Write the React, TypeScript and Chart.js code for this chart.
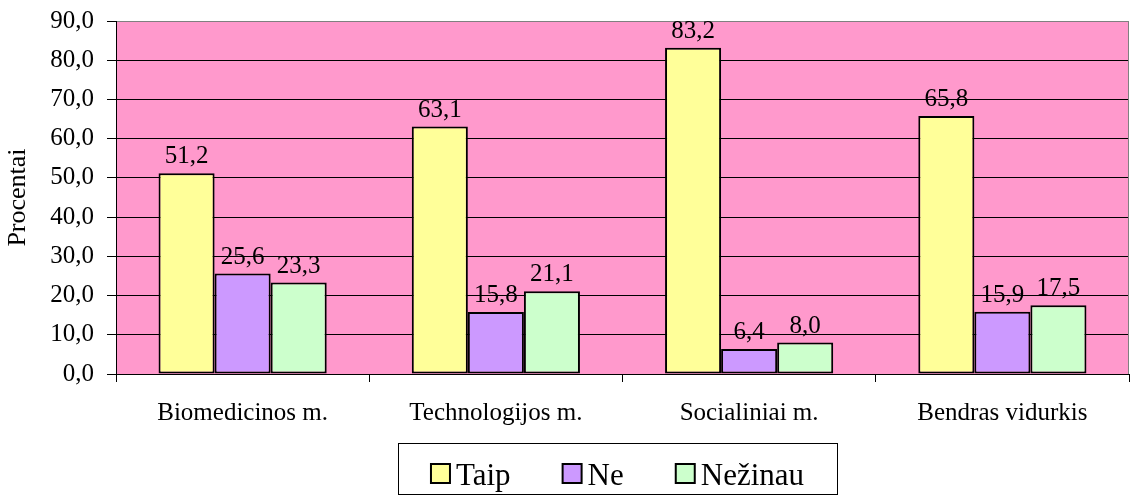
import React, { useEffect, useRef } from "react";
import { Chart, registerables } from "chart.js";

Chart.register(...registerables);

const categories = ["Biomedicinos m.", "Technologijos m.", "Socialiniai m.", "Bendras vidurkis"];
const seriesNames = ["Taip", "Ne", "Nežinau"];
const taipValues = [51.2, 63.1, 83.2, 65.8];
const neValues = [25.6, 15.8, 6.4, 15.9];
const nezinauValues = [23.3, 21.1, 8.0, 17.5];
const seriesColors = ["#FFFF99", "#CC99FF", "#CCFFCC"];
const yAxisTitle = "Procentai";

const FONT = "'Liberation Serif', 'Times New Roman', serif";
const fmt = (v: number) => v.toFixed(1).replace(".", ",");

const bgPlugin = {
  id: "bgPlugin",
  beforeDraw(chart: any) {
    const { ctx, chartArea: a } = chart;
    ctx.save();
    ctx.fillStyle = "#FF99CC";
    ctx.fillRect(a.left, a.top, a.right - a.left, a.bottom - a.top);
    ctx.restore();
  },
  afterDatasetsDraw(chart: any) {
    const { ctx, chartArea: a } = chart;
    ctx.save();
    ctx.strokeStyle = "#808080";
    ctx.lineWidth = 1;
    ctx.beginPath();
    ctx.moveTo(a.right - 0.5, a.top);
    ctx.lineTo(a.right - 0.5, a.bottom);
    ctx.stroke();
    ctx.restore();
  },
};

const valueLabelPlugin = {
  id: "valueLabelPlugin",
  afterDatasetsDraw(chart: any) {
    const { ctx } = chart;
    ctx.save();
    ctx.font = `25px ${FONT}`;
    ctx.fillStyle = "#000";
    ctx.textAlign = "center";
    ctx.textBaseline = "alphabetic";
    chart.data.datasets.forEach((ds: any, i: number) => {
      const meta = chart.getDatasetMeta(i);
      meta.data.forEach((bar: any, j: number) => {
        ctx.fillText(fmt(ds.data[j]), bar.x, bar.y - 10);
      });
    });
    ctx.restore();
  },
};

const legendPlugin = {
  id: "boxLegend",
  afterDraw(chart: any) {
    const { ctx } = chart;
    const boxLeft = 398;
    const boxRight = 837;
    const boxTop = 443;
    const boxBottom = 494;
    ctx.save();
    ctx.strokeStyle = "#000";
    ctx.lineWidth = 1;
    ctx.strokeRect(boxLeft + 0.5, boxTop + 0.5, boxRight - boxLeft, boxBottom - boxTop);
    ctx.font = `31px ${FONT}`;
    ctx.textBaseline = "alphabetic";
    ctx.textAlign = "left";
    const sq = 19;
    const gapText = 6;
    const gapItem = 52;
    const items = chart.data.datasets.map((ds: any) => ({
      label: ds.label,
      color: ds.backgroundColor,
      w: ctx.measureText(ds.label).width,
    }));
    const total =
      items.reduce((s: number, it: any) => s + sq + gapText + it.w, 0) + gapItem * (items.length - 1);
    let x = (boxLeft + boxRight) / 2 - total / 2;
    const baseline = 485;
    items.forEach((it: any) => {
      ctx.fillStyle = it.color;
      ctx.fillRect(x, 464, sq, sq);
      ctx.lineWidth = 2;
      ctx.strokeStyle = "#000";
      ctx.strokeRect(x, 464, sq, sq);
      ctx.fillStyle = "#000";
      ctx.fillText(it.label, x + sq + gapText, baseline);
      x += sq + gapText + it.w + gapItem;
    });
    ctx.restore();
  },
};

export default function App() {
  const ref = useRef<HTMLCanvasElement | null>(null);

  useEffect(() => {
    if (!ref.current) return;
    const values = [taipValues, neValues, nezinauValues];
    const chart = new Chart(ref.current, {
      type: "bar",
      data: {
        labels: categories,
        datasets: seriesNames.map((name, i) => ({
          label: name,
          data: values[i],
          backgroundColor: seriesColors[i],
          borderColor: "#000",
          borderWidth: 2,
          borderSkipped: false,
          categoryPercentage: 0.664,
          barPercentage: 1,
        })),
      },
      options: {
        responsive: false,
        animation: false,
        layout: { padding: { left: 0, top: 21, right: 3, bottom: 0 } },
        plugins: {
          legend: { display: false },
          tooltip: { enabled: false },
        },
        scales: {
          x: {
            afterFit: (s: any) => {
              s.height = 121;
            },
            grid: {
              offset: true,
              drawOnChartArea: false,
              drawTicks: true,
              tickLength: 8,
              color: "#000",
            },
            border: { color: "#000", width: 1 },
            ticks: {
              color: "#000",
              font: { family: FONT, size: 25 },
              padding: 16,
            },
          },
          y: {
            min: 0,
            max: 90,
            afterFit: (s: any) => {
              s.width = 116;
              s.paddingTop = 0;
              s.paddingBottom = 0;
            },
            ticks: {
              stepSize: 10,
              color: "#000",
              font: { family: FONT, size: 25 },
              padding: 13,
              callback: (v: any) => fmt(Number(v)),
            },
            grid: {
              color: (c: any) => (c.tick && c.tick.value === 90 ? "#808080" : "#000"),
              tickColor: "#000",
              tickLength: 9,
            },
            border: { color: "#000", width: 1 },
            title: {
              display: true,
              text: yAxisTitle,
              color: "#000",
              font: { family: FONT, size: 26 },
              padding: { top: 3, bottom: 0 },
            },
          },
        },
      },
      plugins: [bgPlugin, valueLabelPlugin, legendPlugin],
    });
    return () => chart.destroy();
  }, []);

  return (
    <div style={{ position: "absolute", left: 0, top: 0, width: 1132, height: 495, background: "#fff" }}>
      <canvas ref={ref} width={1132} height={495} style={{ display: "block" }} />
    </div>
  );
}
